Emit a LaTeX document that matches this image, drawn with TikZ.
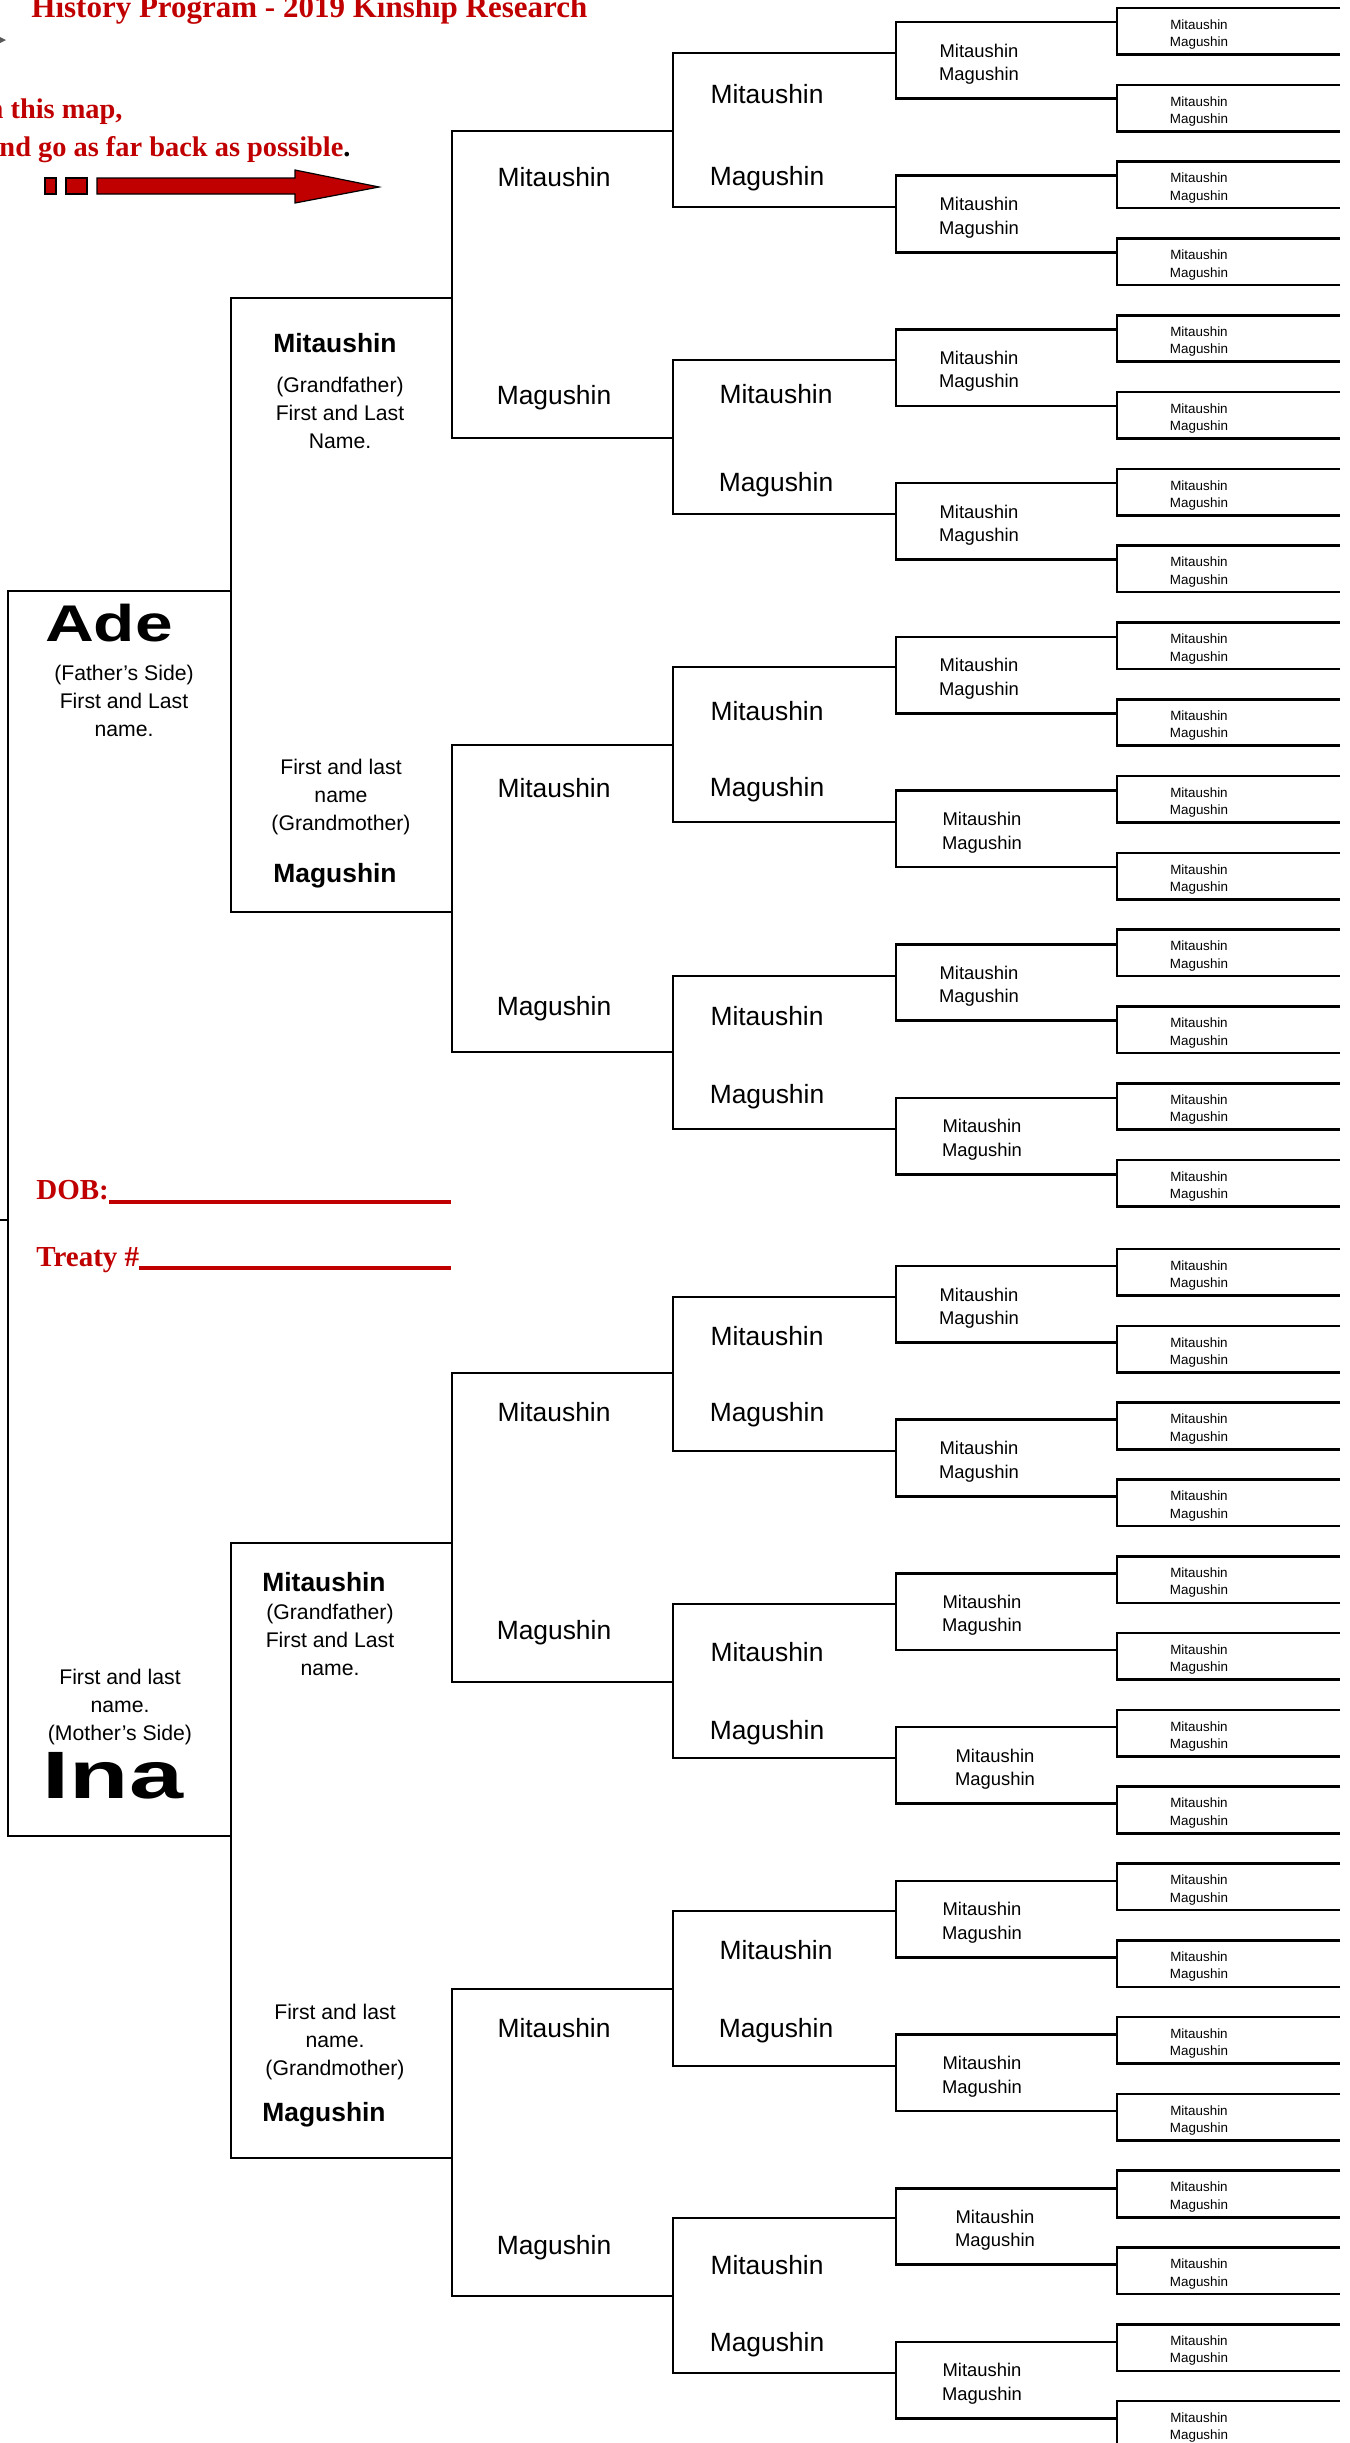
\documentclass[tikz,border=0pt]{standalone}
\usepackage{graphicx}
\usepackage{fontspec}
\setmainfont{Liberation Sans}
\newfontfamily\headfont{Liberation Serif}
\definecolor{kinred}{HTML}{C00000}
\tikzstyle{tree}=[line width=1.3pt]
\tikzstyle{big}=[inner sep=0pt, font=\fontsize{13.2}{16}\selectfont]
\tikzstyle{elder}=[inner sep=0pt, font=\fontsize{13.2}{16}\selectfont\bfseries]
\tikzstyle{note}=[inner sep=0pt, align=center, font=\fontsize{10.6}{14.1}\selectfont]
\tikzstyle{pair}=[inner sep=0pt, align=center, font=\fontsize{9.2}{11.75}\selectfont]
\tikzstyle{tiny}=[inner sep=0pt, align=center, font=\fontsize{6.7}{8.7}\selectfont]
\tikzstyle{redtext}=[inner sep=0pt, text=kinred, font=\headfont\bfseries\fontsize{14.2}{17}\selectfont]
\tikzstyle{blockarrow}=[fill=kinred, draw=black, line width=0.6pt]

\begin{document}
\begin{tikzpicture}[x=0.5pt, y=-0.5pt]
  \useasboundingbox (0,0) rectangle (1350,2443);
  \node[redtext, anchor=base west, font=\headfont\bfseries\fontsize{15.5}{18}\selectfont] (title) at (31,17) {History Program - 2019 Kinship Research};
  \node[redtext, anchor=base east] (hint1) at (123,118) {n this map,};
  \node[redtext, anchor=base east] (hint2) at (351,156) {nd go as far back as possible\textcolor{black}{.}};
  \fill[black!65] (0,37) -- (6,40) -- (0,43) -- cycle;
  \draw[blockarrow] (45,178) rectangle (56,194);
  \draw[blockarrow] (66,178) rectangle (87,194);
  \draw[blockarrow] (97,178) -- (295,178) -- (295,170) -- (379,187) -- (295,203) -- (295,194) -- (97,194) -- cycle;
  \node[redtext, anchor=base west, font=\headfont\bfseries\fontsize{14.5}{17}\selectfont] (dob) at (36,1199) {DOB:\rule[-2.5pt]{171pt}{2pt}};
  \node[redtext, anchor=base west, font=\headfont\bfseries\fontsize{14.5}{17}\selectfont] (treaty) at (36,1266) {Treaty \#\rule[-2pt]{156pt}{2pt}};

  \draw[tree] (231,591) -- (8,591) -- (8,1836) -- (231,1836);
  \draw[tree] (0,1220) -- (8,1220);
  \foreach \ytop/\ybot in {298/912, 1543/2158}
    \draw[tree] (452,\ytop) -- (231,\ytop) -- (231,\ybot) -- (452,\ybot);
  \foreach \ytop/\ybot in {131/438, 745/1052, 1373/1682, 1989/2296}
    \draw[tree] (673,\ytop) -- (452,\ytop) -- (452,\ybot) -- (673,\ybot);
  \foreach \ytop/\ybot in {53/207, 360/514, 667/822, 976/1129, 1297/1451, 1604/1758, 1911/2066, 2218/2373}
    \draw[tree] (896,\ytop) -- (673,\ytop) -- (673,\ybot) -- (896,\ybot);
  \foreach \k/\px in {0/979, 1/979, 2/979, 3/979, 4/979, 5/982, 6/979, 7/982, 8/979, 9/979, 10/982, 11/995, 12/982, 13/982, 14/995, 15/982} {
    \pgfmathsetmacro\ytop{22+153.7*\k+14.4*(\k>7)}
    \pgfmathsetmacro\ybot{\ytop+76.5}
    \draw[tree] (1117,\ytop) -- (896,\ytop) -- (896,\ybot) -- (1117,\ybot);
    \node[pair] (gg\k) at (\px,\ytop+42) {Mitaushin\\Magushin};
  }
  \foreach \j in {0,...,31} {
    \pgfmathsetmacro\ytop{8+76.8*\j+12.3*(\j>15)}
    \pgfmathsetmacro\ybot{\ytop+46.5}
    \draw[tree] (1340,\ytop) -- (1117,\ytop) -- (1117,\ybot) -- (1340,\ybot);
    \node[tiny] (ggg\j) at (1199,\ytop+26.5) {Mitaushin\\Magushin};
  }

  \node[inner sep=0pt, font=\fontsize{25.8}{30}\selectfont\bfseries] (ade) at (109,623) {\scalebox{1.31}[1]{Ade}};
  \node[note] (adenote) at (124,701) {(Father’s Side)\\First and Last\\name.};
  \node[note] (inanote) at (120,1707) {First and last\\name.\\(Mother’s Side)};
  \node[inner sep=0pt, font=\fontsize{33.5}{38}\selectfont\bfseries] (ina) at (113,1776) {\scalebox{1.45}[1]{Ina}};

  \node[elder] (gfa1) at (335,343) {Mitaushin};
  \node[note] (gfa1note) at (340,413) {(Grandfather)\\First and Last\\Name.};
  \node[note] (gmo1note) at (341,797) {First and last\\name\\(Grandmother)};
  \node[elder] (gmo1) at (335,876) {Magushin};
  \node[elder] (gfa2) at (324,1582) {Mitaushin};
  \node[note] (gfa2note) at (330,1640) {(Grandfather)\\First and Last\\name.};
  \node[note] (gmo2note) at (335,2042) {First and last\\name.\\(Grandmother)};
  \node[elder] (gmo2) at (324,2115) {Magushin};

  \foreach \i/\ya/\yb in {1/177/398, 2/788/1009, 3/1412/1633, 4/2028/2248} {
    \node[big] (fa\i) at (554,\ya) {Mitaushin};
    \node[big] (mo\i) at (554,\yb) {Magushin};
  }
  \foreach \i/\px/\ya/\yb in {1/767/94/179, 2/776/394/485, 3/767/711/790, 4/767/1016/1097, 5/767/1336/1415, 6/767/1652/1733, 7/776/1950/2031, 8/767/2265/2345} {
    \node[big] (gfa\i x) at (\px,\ya) {Mitaushin};
    \node[big] (gmo\i x) at (\px,\yb) {Magushin};
  }
\end{tikzpicture}
\end{document}
